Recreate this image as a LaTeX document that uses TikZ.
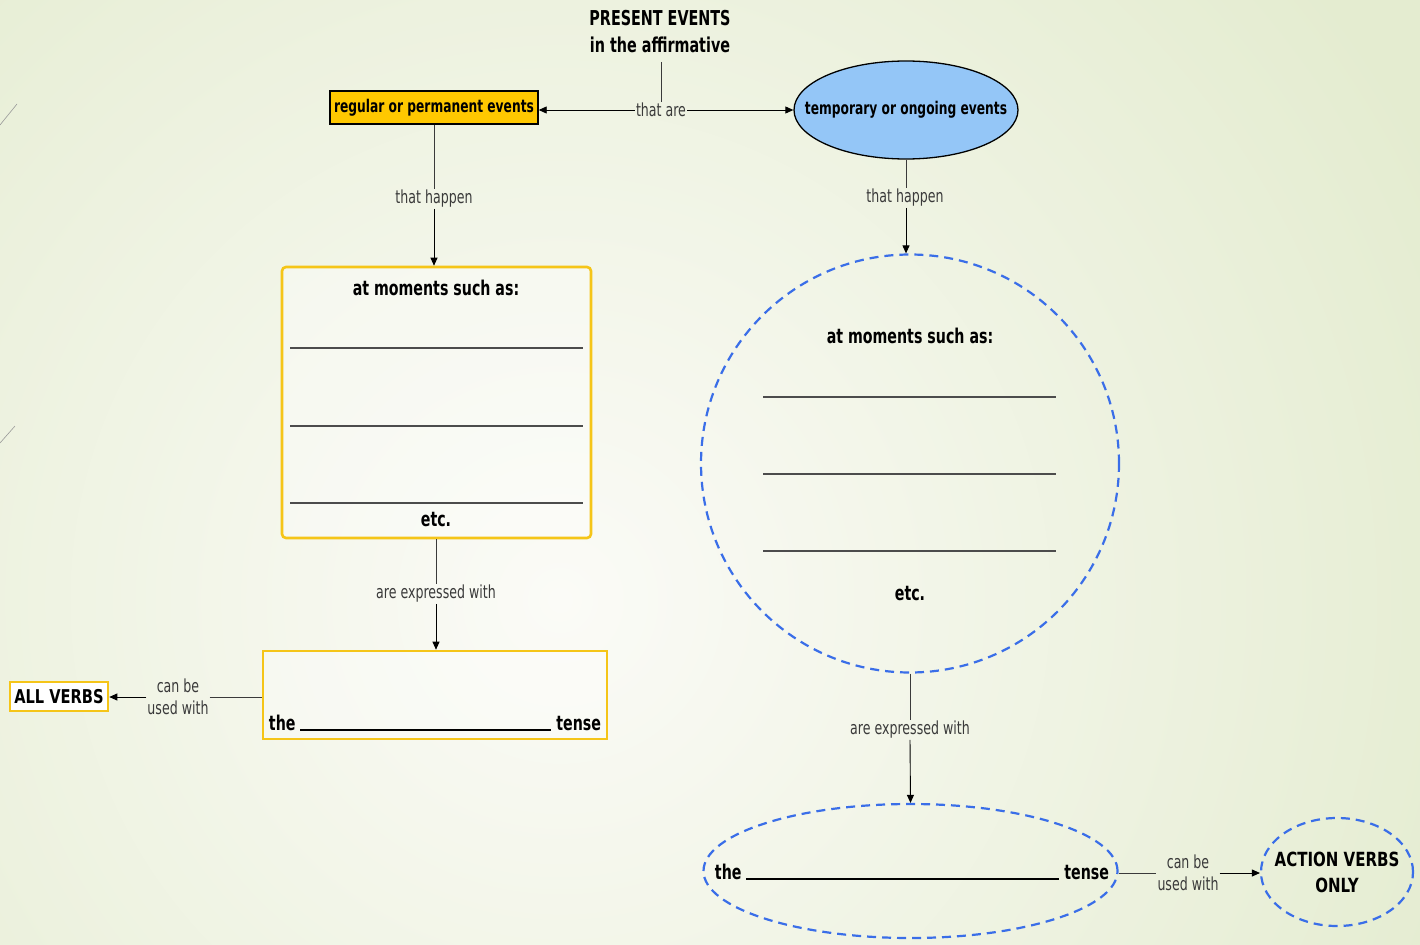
\documentclass[tikz,border=0pt]{standalone}
\usepackage{fontspec}
\setmainfont{DejaVu Sans}[FakeStretch=0.7]
\newfontfamily\vfont{DejaVu Sans}[FakeStretch=0.77]
\usetikzlibrary{shapes.geometric,arrows.meta}
\definecolor{bgout}{HTML}{E4ECD0}
\definecolor{bgin}{HTML}{FBFBF7}
\definecolor{gold}{HTML}{FFC800}
\definecolor{ylw}{HTML}{F5C518}
\definecolor{lblue}{HTML}{94C6F7}
\definecolor{dblue}{HTML}{3A6EE8}
\definecolor{lnk}{HTML}{3A3A3A}
\newcommand{\fs}[1]{\fontsize{#1}{#1}\selectfont}
\tikzset{
  lbl/.style={inner sep=1pt, text=lnk, font=\fs{18}, align=center},
  lbl2/.style={lbl, font=\fontsize{18}{22}\selectfont},
  bld/.style={inner sep=0pt, font=\bfseries\fs{20.3}},
  lk/.style={draw=lnk, line width=0.9pt},
  lka/.style={lk, -{Triangle[length=8pt,width=7pt]}, draw=black},
  ybox/.style={draw=ylw, line width=2.6pt, fill=white, fill opacity=0.35, text opacity=1},
  dsh/.style={draw=dblue, line width=2.2pt, dash pattern=on 9pt off 6pt},
  blank/.style={draw=black!70, line width=1.6pt},
}
\begin{document}
\begin{tikzpicture}[x=1pt,y=-1pt]
\useasboundingbox (0,0) rectangle (1420,944);
\fill[bgout] (0,0) rectangle (1420,944);
\begin{scope}
\clip (0,0) rectangle (1420,944);
\shade[inner color=bgin, outer color=bgout] (560,600) circle (980);
\end{scope}
\draw[gray!80, line width=0.6pt] (0,125) -- (17,104);
\draw[gray!80, line width=0.6pt] (0,443) -- (15,426);

% title
\node[inner sep=0pt, anchor=north, align=center, font=\bfseries\fontsize{20.5}{27}\selectfont] (title) at (660,10) {PRESENT EVENTS\\in the affirmative};
\node[lbl] (ta) at (661,110) {that are};
\node[draw=black, fill=gold, line width=1.4pt, minimum width=208pt, minimum height=33pt, inner sep=0pt, font=\bfseries\fs{17.5}] (reg) at (434,107.5) {regular or permanent events};
\node[ellipse, draw=black, fill=lblue, line width=1.3pt, minimum width=224pt, minimum height=98pt, inner sep=0pt] (tmp) at (906,110) {};
\node[inner sep=0pt, font=\bfseries\fs{17.5}] (tmpt) at (906,110) {temporary or ongoing events};
\draw[lk] (ta.north |- 0,62) -- (ta.north);
\draw[lka] (ta.west) -- (ta.west -| reg.east);
\draw[lka] (ta.east) -- (ta.east -| tmp.west);

% left branch
\node[lbl] (th1) at (434,199) {that happen};
\node[ybox, rounded corners=4pt, minimum width=309pt, minimum height=271pt] (mom1) at (436.5,402.5) {};
\draw[lk] (reg.south) -- (reg.south |- th1.north);
\draw[lka] (reg.south |- th1.south) -- (reg.south |- mom1.north);
\node[bld] (m1t) at (436,288) {at moments such as:};
\draw[blank] (290,348) -- (583,348);
\draw[blank] (290,426) -- (583,426);
\draw[blank] (290,503) -- (583,503);
\node[bld] (m1e) at (436,520) {etc.};

\node[lbl] (ae1) at (436,594) {are expressed with};
\node[ybox, minimum width=344pt, minimum height=88pt] (ten1) at (435,695) {};
\draw[lk] (ae1.north |- mom1.south) -- (ae1.north);
\draw[lka] (ae1.south) -- (ae1.south |- ten1.north);
\node[bld, anchor=base] (ten1t) at (435,730) {the \rule[-1pt]{251pt}{1.6pt} tense};

\node[ybox, fill opacity=1, minimum width=98pt, minimum height=29pt, inner sep=0pt, font=\vfont\bfseries\fs{19}] (all) at (59,696.5) {ALL VERBS};
\node[lbl2] (cb1) at (178,697) {can be\\used with};
\draw[lk] (cb1.east) -- (cb1.east -| ten1.west);
\draw[lka] (cb1.west) -- (cb1.west -| all.east);

% right branch
\node[lbl] (th2) at (905,198) {that happen};
\node[circle, dsh, minimum size=418pt, inner sep=0pt] (mom2) at (910,463.5) {};
\draw[lk] (tmp.south) -- (tmp.south |- th2.north);
\draw[lka] (tmp.south |- th2.south) -- (tmp.south |- mom2.north);
\node[bld] (m2t) at (910,336) {at moments such as:};
\draw[blank] (763,397) -- (1056,397);
\draw[blank] (763,474) -- (1056,474);
\draw[blank] (763,551) -- (1056,551);
\node[bld] (m2e) at (910,594) {etc.};

\node[lbl] (ae2) at (910,730) {are expressed with};
\node[ellipse, dsh, minimum width=414pt, minimum height=134pt, inner sep=0pt] (ten2) at (910.5,871) {};
\draw[lk] (mom2.south) -- (mom2.south |- ae2.north);
\draw[lka] (mom2.south |- ae2.south) -- (ten2.north);
\node[bld, anchor=base] (ten2t) at (912,879) {the \rule[-1pt]{313pt}{1.6pt} tense};

\node[lbl2] (cb2) at (1188,873) {can be\\used with};
\node[ellipse, dsh, minimum width=152pt, minimum height=108pt, inner sep=0pt] (act) at (1337,872) {};
\node[inner sep=0pt, align=center, font=\vfont\bfseries\fontsize{19.5}{26}\selectfont] (actt) at (1337,872) {ACTION VERBS\\ONLY};
\draw[lk] (cb2.west -| ten2.east) -- (cb2.west);
\draw[lka] (cb2.east) -- (cb2.east -| act.west);
\end{tikzpicture}
\end{document}
